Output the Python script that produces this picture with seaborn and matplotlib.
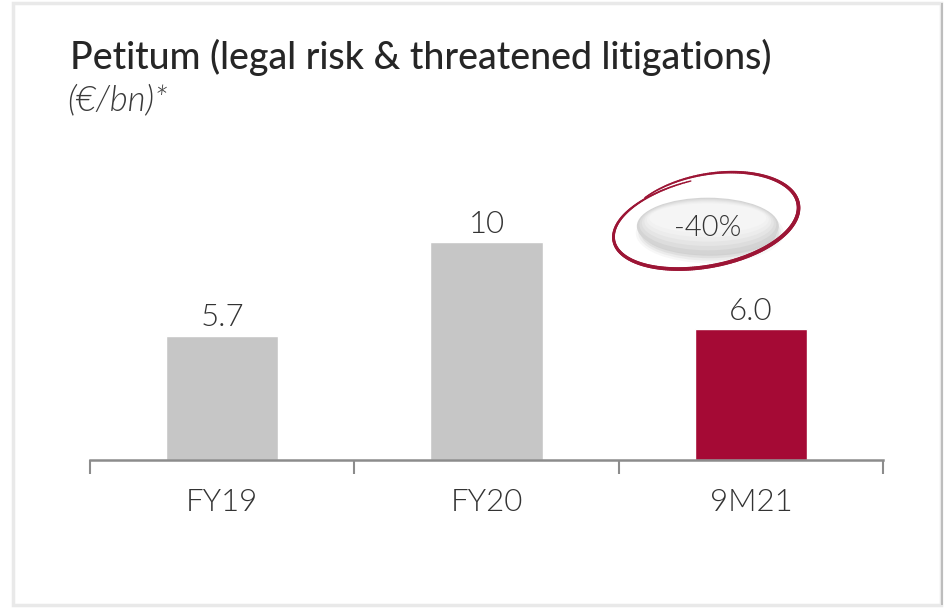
import numpy as np
import pandas as pd
import matplotlib
matplotlib.use("Agg")
import matplotlib.pyplot as plt
from matplotlib.patches import Ellipse, Rectangle
import seaborn as sns

categories = ["FY19", "FY20", "9M21"]
values = [5.7, 10.0, 6.0]
value_labels = ["5.7", "10", "6.0"]
bar_colors = ["#C6C6C6", "#C6C6C6", "#A50A35"]
change_label = "-40%"
title = "Petitum (legal risk & threatened litigations)"
subtitle = "(€/bn)*"

sns.set_theme(style="white")
plt.rcParams["font.family"] = ["Lato", "DejaVu Sans"]

W, H = 944, 608
fig = plt.figure(figsize=(W / 100, H / 100), dpi=100)
fig.patch.set_facecolor("white")

# frame around the slide element
fig.add_artist(Rectangle((13 / W, 3 / H), 928 / W, 602 / H, transform=fig.transFigure,
                         fill=False, edgecolor="#E9E9E9", linewidth=2.5))
fig.add_artist(Rectangle((941 / W, 3 / H), 2 / W, 602 / H, transform=fig.transFigure,
                         facecolor="#BDBDBD", edgecolor="none"))

ax_left, ax_right = 90 / W, 883 / W
ax_bottom = (H - 460) / H
ax_top = (H - 130) / H
ax = fig.add_axes([ax_left, ax_bottom, ax_right - ax_left, ax_top - ax_bottom])

df = pd.DataFrame({"cat": categories, "val": values})
sns.barplot(data=df, x="cat", y="val", hue="cat", palette=bar_colors,
            width=0.424, legend=False, ax=ax, saturation=1)

ymax = 10 * (460 - 130) / 218
ax.set_ylim(0, ymax)
ax.set_xlim(-0.5, 2.5)
ax.set_xlabel("")
ax.set_ylabel("")
ax.set_yticks([])
for s in ["left", "right", "top"]:
    ax.spines[s].set_visible(False)
ax.spines["bottom"].set_color("#8C8C8C")
ax.spines["bottom"].set_linewidth(1.8)
ax.set_xticks(range(len(categories)))
ax.set_xticklabels(categories, fontsize=22.5, fontweight=300, color="#333333")
ax.tick_params(axis="x", which="major", length=0, pad=20)
ax.set_xticks(np.arange(-0.5, len(categories), 1.0), minor=True)
ax.tick_params(axis="x", which="minor", bottom=True, length=10, width=1.5,
               color="#8C8C8C", direction="out")

for i, (v, lab) in enumerate(zip(values, value_labels)):
    ax.annotate(lab, (i, v), xytext=(0, 2.5), textcoords="offset points",
                ha="center", va="bottom", fontsize=22.5, fontweight=300, color="#333333")

fig.text(70 / W, 1 - 57 / H, title, fontsize=27, fontweight=500,
         color="#262626", ha="left", va="center")
fig.text(67 / W, 1 - 100 / H, subtitle, fontsize=25, fontweight=300, style="italic",
         color="#3A3A3A", ha="left", va="center")

# -40% bubble, anchored above the last bar
fig.canvas.draw()
anchor = ax.transData.transform((2, values[2]))
cx, cy = anchor[0] - 43, anchor[1] + 103
def px(x, y):
    return (x / 100, y / 100)
trans = fig.dpi_scale_trans
for k, a in enumerate([0.05, 0.07, 0.09, 0.11]):
    sh = Ellipse(px(cx + 2, cy - 7), (148 - 5 * k) / 100, (60 - 5 * k) / 100, transform=trans,
                 facecolor="#666666", edgecolor="none", alpha=a)
    fig.add_artist(sh)
shades = ["#D4D4D4", "#DDDDDD", "#E5E5E5", "#ECECEC", "#F1F1F1", "#F5F5F5"]
for k, c in enumerate(shades):
    e = Ellipse(px(cx, cy + 1.6 * k), (142 - 5 * k) / 100, (57 - 5.5 * k) / 100,
                transform=trans, facecolor=c, edgecolor="none")
    fig.add_artist(e)
fig.text(cx / W, (cy - 2) / H, change_label, fontsize=21, fontweight=300,
         color="#333333", ha="center", va="center")

# hand-drawn red oval
t = np.linspace(np.deg2rad(95), np.deg2rad(95 + 395), 300)
rx = 92 + 4 * np.sin(t * 0.5)
ry = 43 + 4 * (t - t[0]) / (t[-1] - t[0])
ang = np.deg2rad(12)
xs = rx * np.cos(t)
ys = ry * np.sin(t)
X = cx + 0 + xs * np.cos(ang) - ys * np.sin(ang)
Y = cy + 5 + xs * np.sin(ang) + ys * np.cos(ang)
lw = 1.0 + 1.8 * np.sin(np.linspace(0, np.pi, len(t)))
for j in range(len(t) - 1):
    fig.add_artist(plt.Line2D([X[j] / W, X[j + 1] / W], [Y[j] / H, Y[j + 1] / H],
                              transform=fig.transFigure, color="#9C1535",
                              linewidth=lw[j], solid_capstyle="round"))

fig.savefig("out.png", dpi=100, facecolor="white")
